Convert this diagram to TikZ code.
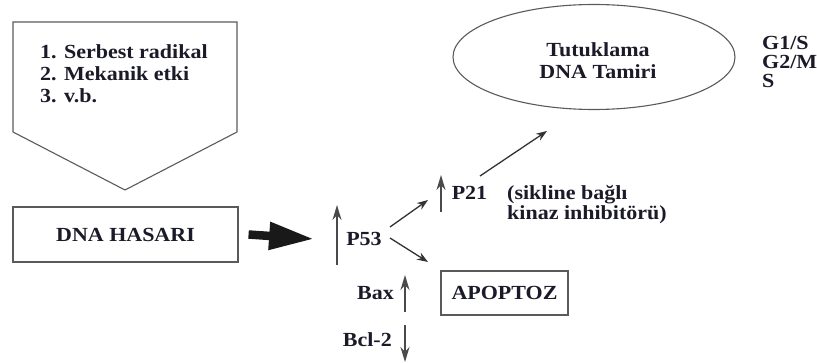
\documentclass[tikz,border=0pt]{standalone}
\usepackage{fontspec}
\setmainfont{Liberation Serif}[FakeStretch=1.1]
\usetikzlibrary{arrows.meta,shapes.geometric}
\definecolor{ink}{HTML}{1A1A28}
\definecolor{edgegray}{HTML}{5A5A5A}
\definecolor{arrgray}{HTML}{333333}
\definecolor{upgray}{HTML}{4A4A4A}
\tikzset{
  lbl/.style={font=\fontsize{20}{22}\selectfont\bfseries, text=ink, inner sep=0pt},
  boxed/.style={draw=edgegray, line width=1.1pt, font=\fontsize{20}{22}\selectfont\bfseries, text=ink},
  thinarr/.style={draw=arrgray, line width=1.3pt, -{Stealth[length=11pt,width=8pt]}},
  uparr/.style={draw=upgray, line width=2pt, -{Stealth[length=15pt,width=9pt]}},
  fatarr/.style={draw=black!90, line width=8.5pt, -{Triangle[length=45pt,width=26pt]}}
}
\begin{document}
\begin{tikzpicture}[x=1pt,y=-1pt]
\useasboundingbox (0,0) rectangle (817,363);
% top pentagon
\draw[draw=edgegray, line width=1.1pt] (13,22) -- (237,22) -- (237,132) -- (125,190) -- (13,132) -- cycle;
\node[lbl, anchor=north west, align=left] (causes) at (40,44) {1. Serbest radikal\\2. Mekanik etki\\3. v.b.};
% DNA HASARI
\node[boxed, minimum width=225, minimum height=55] (hasar) at (125.5,234.5) {DNA HASARI};
\node[lbl] (p53) at (364,239) {P53};
\draw[fatarr] ([xshift=10pt]hasar.east) -- ([xshift=-32pt]p53.west);
\coordinate (p53b) at (337,265);
\coordinate (p53t) at (337,205);
\draw[uparr] (p53b) -- (p53t);
% P21
\node[lbl] (p21) at (469.5,193) {P21};
\coordinate (p21b) at (441,212);
\coordinate (p21t) at (441,175);
\draw[uparr] (p21b) -- (p21t);
\coordinate (d1s) at (390,227);
\coordinate (d1e) at (428,200);
\draw[thinarr] (d1s) -- (d1e);
\coordinate (d2s) at (390,238);
\coordinate (d2e) at (428,262);
\draw[thinarr] (d2s) -- (d2e);
\node[lbl, anchor=north west, align=left, font=\fontsize{20}{20}\selectfont\bfseries] (cdk) at (507,185) {(sikline bağlı\\kinaz inhibitörü)};
% ellipse
\node[ellipse, draw=edgegray, line width=1.1pt, minimum width=282, minimum height=105, inner sep=0pt] (tut) at (594,57) {};
\node[lbl, align=center] (tuttxt) at (598,61) {Tutuklama\\DNA Tamiri};
\coordinate (d3s) at (480,176);
\coordinate (d3e) at (547,131);
\draw[thinarr] (d3s) -- (d3e);
\node[lbl, anchor=north west, align=left, font=\fontsize{20}{19}\selectfont\bfseries] (phase) at (762,36) {G1/S\\G2/M\\S};
% APOPTOZ
\node[boxed, minimum width=127, minimum height=44] (apo) at (504.5,293) {APOPTOZ};
% Bax / Bcl-2
\node[lbl, anchor=east] (bax) at (394,293) {Bax};
\coordinate (baxb) at (405,312);
\coordinate (baxt) at (405,275);
\draw[uparr] (baxb) -- (baxt);
\node[lbl, anchor=east] (bcl) at (392,340) {Bcl-2};
\coordinate (bclt) at (405,325);
\coordinate (bclb) at (405,362);
\draw[uparr] (bclt) -- (bclb);
\end{tikzpicture}
\end{document}
